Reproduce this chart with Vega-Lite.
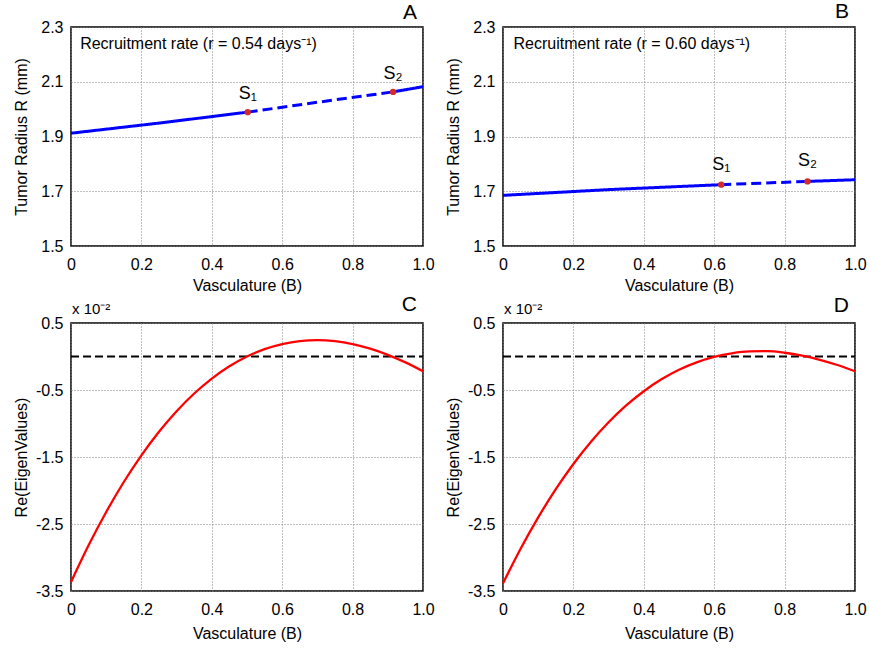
{
  "$schema": "https://vega.github.io/schema/vega-lite/v6.json",
  "padding": {"left": 12, "top": 0, "right": 5, "bottom": 5},
  "background": "white",
  "config": {
    "font": "Liberation Sans",
    "view": {"stroke": "black", "strokeWidth": 1.5},
    "axis": {
      "domain": false, "ticks": false, "grid": true,
      "gridDash": [1, 2], "gridColor": "#808080", "gridWidth": 1,
      "labelFontSize": 16, "titleFontSize": 16, "titleFontWeight": "normal",
      "labelColor": "black", "titleColor": "black",
      "labelFlush": false, "labelOverlap": false, "labelBound": false
    }
  },
  "columns": 2,
  "spacing": {"row": 77, "column": 80},
  "bounds": "flush",
  "concat": [
    {
      "width": 352, "height": 219,
      "encoding": {
        "x": {"field": "x", "type": "quantitative", "scale": {"domain": [0, 1], "nice": false},
          "title": "Vasculature (B)",
          "axis": {"values": [0, 0.2, 0.4, 0.6, 0.8, 1], "labelExpr": "datum.value == 0 ? '0' : format(datum.value, '.1f')", "labelPadding": 10, "titleY": 31, "titleBaseline": "top"}},
        "y": {"field": "y", "type": "quantitative", "scale": {"domain": [1.5, 2.3], "nice": false, "zero": false},
          "title": "Tumor Radius R (mm)",
          "axis": {"values": [1.5, 1.7, 1.9, 2.1, 2.3], "format": ".1f", "labelPadding": 8, "titleX": -42}}
      },
      "layer": [
        {
          "data": {"values": [
            {"x": 0, "y": 1.912, "seg": "a", "style": "solid"},
            {"x": 0.25, "y": 1.949, "seg": "a", "style": "solid"},
            {"x": 0.502, "y": 1.989, "seg": "a", "style": "solid"},
            {"x": 0.502, "y": 1.989, "seg": "b", "style": "dashed"},
            {"x": 0.7, "y": 2.025, "seg": "b", "style": "dashed"},
            {"x": 0.915, "y": 2.063, "seg": "b", "style": "dashed"},
            {"x": 0.915, "y": 2.063, "seg": "c", "style": "solid"},
            {"x": 1.0, "y": 2.082, "seg": "c", "style": "solid"}
          ]},
          "mark": {"type": "line", "color": "#0000ff", "strokeWidth": 3},
          "encoding": {
            "detail": {"field": "seg"},
            "strokeDash": {"field": "style", "type": "nominal", "scale": {"domain": ["solid", "dashed"], "range": [[1, 0], [10, 5]]}, "legend": null}
          }
        },
        {
          "data": {"values": [
            {"x": 0.502, "y": 1.989, "label": "S₁"},
            {"x": 0.915, "y": 2.063, "label": "S₂"}
          ]},
          "layer": [
            {"mark": {"type": "circle", "color": "#d42a2a", "size": 40, "opacity": 1}},
            {"mark": {"type": "text", "fontSize": 18, "dy": -18, "color": "black"}, "encoding": {"text": {"field": "label"}}}
          ]
        },
        {
          "data": {"values": [
            {"x": 0.026, "y": 2.237, "t": "Recruitment rate (r = 0.54 days⁻¹)", "k": "note"}
          ]},
          "mark": {"type": "text", "align": "left", "baseline": "middle", "fontSize": 16, "color": "black"},
          "encoding": {"text": {"field": "t"}}
        },
        {
          "data": {"values": [{"x": 1, "y": 2.3, "t": "A"}]},
          "mark": {"type": "text", "align": "right", "baseline": "alphabetic", "fontSize": 21, "dx": -6, "dy": -8, "color": "black"},
          "encoding": {"text": {"field": "t"}}
        }
      ]
    },
    {
      "width": 352, "height": 219,
      "encoding": {
        "x": {"field": "x", "type": "quantitative", "scale": {"domain": [0, 1], "nice": false},
          "title": "Vasculature (B)",
          "axis": {"values": [0, 0.2, 0.4, 0.6, 0.8, 1], "labelExpr": "datum.value == 0 ? '0' : format(datum.value, '.1f')", "labelPadding": 10, "titleY": 31, "titleBaseline": "top"}},
        "y": {"field": "y", "type": "quantitative", "scale": {"domain": [1.5, 2.3], "nice": false, "zero": false},
          "title": "Tumor Radius R (mm)",
          "axis": {"values": [1.5, 1.7, 1.9, 2.1, 2.3], "format": ".1f", "labelPadding": 8, "titleX": -42}}
      },
      "layer": [
        {
          "data": {"values": [
            {"x": 0, "y": 1.685, "seg": "a", "style": "solid"},
            {"x": 0.3, "y": 1.706, "seg": "a", "style": "solid"},
            {"x": 0.62, "y": 1.724, "seg": "a", "style": "solid"},
            {"x": 0.62, "y": 1.724, "seg": "b", "style": "dashed"},
            {"x": 0.865, "y": 1.736, "seg": "b", "style": "dashed"},
            {"x": 0.865, "y": 1.736, "seg": "c", "style": "solid"},
            {"x": 1.0, "y": 1.742, "seg": "c", "style": "solid"}
          ]},
          "mark": {"type": "line", "color": "#0000ff", "strokeWidth": 3},
          "encoding": {
            "detail": {"field": "seg"},
            "strokeDash": {"field": "style", "type": "nominal", "scale": {"domain": ["solid", "dashed"], "range": [[1, 0], [10, 5]]}, "legend": null}
          }
        },
        {
          "data": {"values": [
            {"x": 0.62, "y": 1.724, "label": "S₁"},
            {"x": 0.865, "y": 1.736, "label": "S₂"}
          ]},
          "layer": [
            {"mark": {"type": "circle", "color": "#d42a2a", "size": 40, "opacity": 1}},
            {"mark": {"type": "text", "fontSize": 18, "dy": -20, "color": "black"}, "encoding": {"text": {"field": "label"}}}
          ]
        },
        {
          "data": {"values": [{"x": 0.03, "y": 2.237, "t": "Recruitment rate (r = 0.60 days⁻¹)"}]},
          "mark": {"type": "text", "align": "left", "baseline": "middle", "fontSize": 16, "color": "black"},
          "encoding": {"text": {"field": "t"}}
        },
        {
          "data": {"values": [{"x": 1, "y": 2.3, "t": "B"}]},
          "mark": {"type": "text", "align": "right", "baseline": "alphabetic", "fontSize": 21, "dx": -6, "dy": -9, "color": "black"},
          "encoding": {"text": {"field": "t"}}
        }
      ]
    },
    {
      "width": 352, "height": 268,
      "encoding": {
        "x": {"field": "x", "type": "quantitative", "scale": {"domain": [0, 1], "nice": false},
          "title": "Vasculature (B)",
          "axis": {"values": [0, 0.2, 0.4, 0.6, 0.8, 1], "labelExpr": "datum.value == 0 ? '0' : format(datum.value, '.1f')", "labelPadding": 10, "titleY": 34, "titleBaseline": "top"}},
        "y": {"field": "y", "type": "quantitative", "scale": {"domain": [-3.5, 0.5], "nice": false, "zero": false},
          "title": "Re(EigenValues)",
          "axis": {"values": [-3.5, -2.5, -1.5, -0.5, 0.5], "labelExpr": "replace(format(datum.value, '.1f'), '−', '-')", "labelPadding": 8, "titleX": -42}}
      },
      "layer": [
        {
          "data": {"values": [{"x": 0, "x2": 1, "y": 0}]},
          "mark": {"type": "rule", "color": "black", "strokeWidth": 2, "strokeDash": [8, 4]},
          "encoding": {"x2": {"field": "x2"}}
        },
        {
          "data": {"values": [
            {"x": 0, "y": -3.366}, {"x": 0.05, "y": -2.817}, {"x": 0.1, "y": -2.32}, {"x": 0.15, "y": -1.873},
            {"x": 0.2, "y": -1.475}, {"x": 0.25, "y": -1.123}, {"x": 0.3, "y": -0.816}, {"x": 0.35, "y": -0.552},
            {"x": 0.4, "y": -0.329}, {"x": 0.45, "y": -0.146}, {"x": 0.5, "y": 0.0}, {"x": 0.55, "y": 0.11},
            {"x": 0.6, "y": 0.186}, {"x": 0.65, "y": 0.231}, {"x": 0.7, "y": 0.245}, {"x": 0.75, "y": 0.229},
            {"x": 0.8, "y": 0.186}, {"x": 0.85, "y": 0.117}, {"x": 0.9, "y": 0.025}, {"x": 0.95, "y": -0.088},
            {"x": 1.0, "y": -0.22}
          ]},
          "mark": {"type": "line", "color": "#ff0000", "strokeWidth": 2.3, "interpolate": "monotone"}
        },
        {
          "data": {"values": [{"x": 0, "y": 0.5, "t": "x 10⁻²"}]},
          "mark": {"type": "text", "align": "left", "baseline": "middle", "fontSize": 15, "dy": -14, "dx": 1, "color": "black"},
          "encoding": {"text": {"field": "t"}}
        },
        {
          "data": {"values": [{"x": 1, "y": 0.5, "t": "C"}]},
          "mark": {"type": "text", "align": "right", "baseline": "alphabetic", "fontSize": 21, "dx": -6, "dy": -12, "color": "black"},
          "encoding": {"text": {"field": "t"}}
        }
      ]
    },
    {
      "width": 352, "height": 268,
      "encoding": {
        "x": {"field": "x", "type": "quantitative", "scale": {"domain": [0, 1], "nice": false},
          "title": "Vasculature (B)",
          "axis": {"values": [0, 0.2, 0.4, 0.6, 0.8, 1], "labelExpr": "datum.value == 0 ? '0' : format(datum.value, '.1f')", "labelPadding": 10, "titleY": 34, "titleBaseline": "top"}},
        "y": {"field": "y", "type": "quantitative", "scale": {"domain": [-3.5, 0.5], "nice": false, "zero": false},
          "title": "Re(EigenValues)",
          "axis": {"values": [-3.5, -2.5, -1.5, -0.5, 0.5], "labelExpr": "replace(format(datum.value, '.1f'), '−', '-')", "labelPadding": 8, "titleX": -42}}
      },
      "layer": [
        {
          "data": {"values": [{"x": 0, "x2": 1, "y": 0}]},
          "mark": {"type": "rule", "color": "black", "strokeWidth": 2, "strokeDash": [8, 4]},
          "encoding": {"x2": {"field": "x2"}}
        },
        {
          "data": {"values": [
            {"x": 0, "y": -3.386}, {"x": 0.05, "y": -2.869}, {"x": 0.1, "y": -2.401}, {"x": 0.15, "y": -1.98},
            {"x": 0.2, "y": -1.604}, {"x": 0.25, "y": -1.272}, {"x": 0.3, "y": -0.982}, {"x": 0.35, "y": -0.731},
            {"x": 0.4, "y": -0.518}, {"x": 0.45, "y": -0.341}, {"x": 0.5, "y": -0.198}, {"x": 0.55, "y": -0.087},
            {"x": 0.6, "y": -0.006}, {"x": 0.65, "y": 0.048}, {"x": 0.7, "y": 0.076}, {"x": 0.75, "y": 0.079},
            {"x": 0.8, "y": 0.056}, {"x": 0.85, "y": 0.012}, {"x": 0.9, "y": -0.05}, {"x": 0.95, "y": -0.127},
            {"x": 1.0, "y": -0.22}
          ]},
          "mark": {"type": "line", "color": "#ff0000", "strokeWidth": 2.3, "interpolate": "monotone"}
        },
        {
          "data": {"values": [{"x": 0, "y": 0.5, "t": "x 10⁻²"}]},
          "mark": {"type": "text", "align": "left", "baseline": "middle", "fontSize": 15, "dy": -14, "dx": 1, "color": "black"},
          "encoding": {"text": {"field": "t"}}
        },
        {
          "data": {"values": [{"x": 1, "y": 0.5, "t": "D"}]},
          "mark": {"type": "text", "align": "right", "baseline": "alphabetic", "fontSize": 21, "dx": -6, "dy": -11, "color": "black"},
          "encoding": {"text": {"field": "t"}}
        }
      ]
    }
  ]
}
